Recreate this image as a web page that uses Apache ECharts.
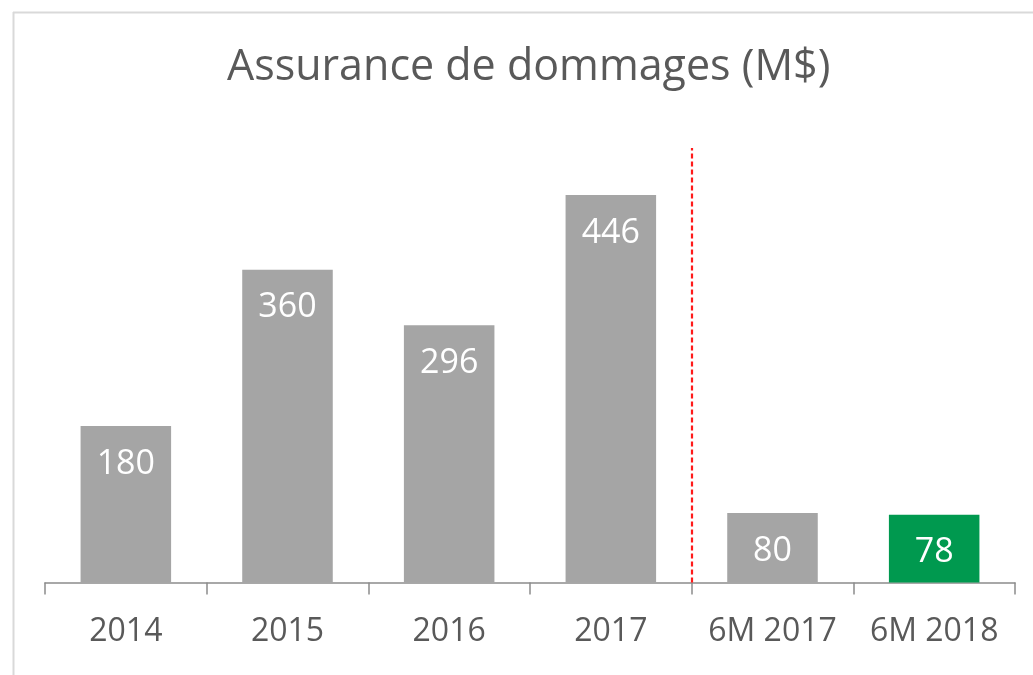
<!DOCTYPE html>
<html>
<head>
<meta charset="utf-8">
<script src="https://cdn.jsdelivr.net/npm/echarts@6/dist/echarts.min.js"></script>
<style>
  html, body { margin: 0; padding: 0; background: #fff; }
  #chart { width: 1033px; height: 675px; }
</style>
</head>
<body>
<div id="chart"></div>
<script>
// categories and values
const categories = ['2014', '2015', '2016', '2017', '6M 2017', '6M 2018'];
const values = [180, 360, 296, 446, 80, 78];
const barColors = ['#a5a5a5', '#a5a5a5', '#a5a5a5', '#a5a5a5', '#a5a5a5', '#00994f'];
// the dashed separator sits on the boundary after the 4th category
const separatorAt = [4];

const font = '"Open Sans", "Noto Sans", sans-serif';

const chart = echarts.init(document.getElementById('chart'));

const option = {
  animation: false,
  title: {
    text: 'Assurance de dommages (M$)',
    left: 227,
    top: 46,
    padding: 0,
    textStyle: {
      fontFamily: font,
      fontSize: 43,
      fontWeight: 'normal',
      color: '#595959',
      lineHeight: 44
    }
  },
  graphic: [
    { type: 'line', shape: { x1: 13, y1: 12.5, x2: 1033, y2: 12.5 }, style: { stroke: '#d9d9d9', lineWidth: 2 } },
    { type: 'line', shape: { x1: 13.5, y1: 12, x2: 13.5, y2: 675 }, style: { stroke: '#d9d9d9', lineWidth: 2 } }
  ],
  grid: {
    left: 45,
    right: 18,
    top: 148,
    bottom: 92.5
  },
  xAxis: [
    {
      type: 'category',
      data: categories,
      axisLine: { lineStyle: { color: '#8c8c8c', width: 1.5 } },
      axisTick: { show: true, interval: 0, length: 12, lineStyle: { color: '#8c8c8c', width: 1.5 } },
      axisLabel: {
        interval: 0,
        margin: 33,
        fontFamily: font,
        fontSize: 32,
        lineHeight: 32,
        color: '#595959'
      }
    },
    {
      type: 'value',
      min: 0,
      max: categories.length,
      show: false
    }
  ],
  yAxis: {
    type: 'value',
    min: 0,
    max: 500,
    show: false
  },
  series: [
    {
      type: 'bar',
      barWidth: '56%',
      data: values.map((v, i) => ({ value: v, itemStyle: { color: barColors[i] } })),
      label: {
        show: true,
        position: 'insideTop',
        distance: 21,
        fontFamily: font,
        fontSize: 34,
        lineHeight: 34,
        color: '#ffffff'
      }
    },
    {
      type: 'scatter',
      xAxisIndex: 1,
      symbolSize: 0,
      data: [[separatorAt[0], 0]],
      silent: true,
      markLine: {
        symbol: 'none',
        silent: true,
        label: { show: false },
        lineStyle: { color: '#ff1a1a', type: [5, 3], width: 2.2 },
        data: separatorAt.map(x => ({ xAxis: x }))
      }
    }
  ]
};

chart.setOption(option);
</script>
</body>
</html>
